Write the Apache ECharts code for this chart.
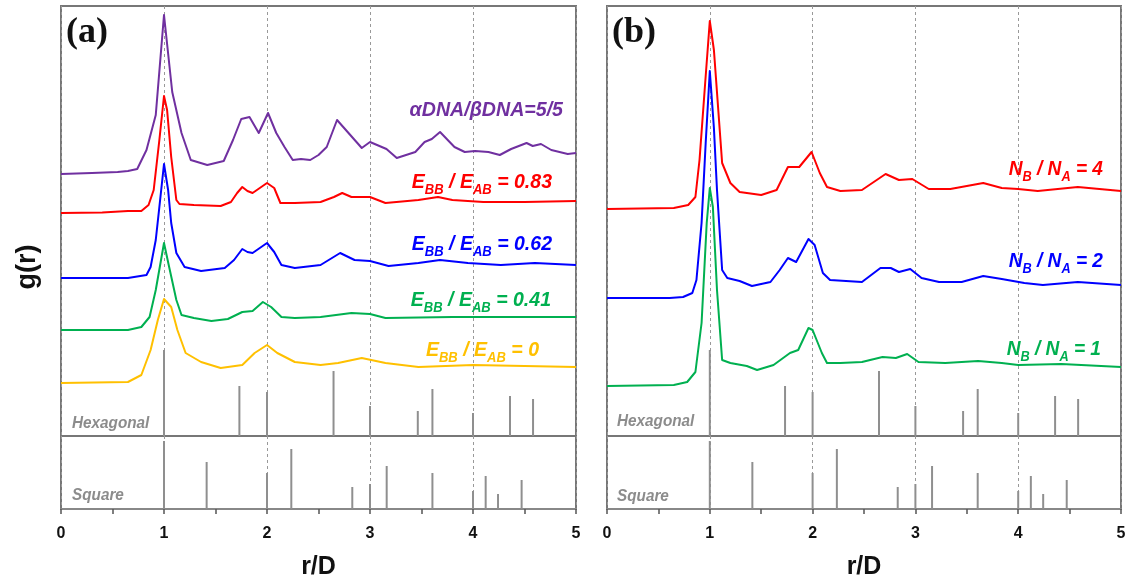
<!DOCTYPE html>
<html>
<head>
<meta charset="utf-8">
<script src="https://cdn.jsdelivr.net/npm/echarts@6/dist/echarts.min.js"></script>
<style>
html,body{margin:0;padding:0;background:#fff;}
#c{width:1128px;height:581px;}
</style>
</head>
<body>
<div id="c"></div>
<script>
// ---------------- DATA ----------------
// x tick labels
const xTicks = [0, 1, 2, 3, 4, 5];

// Panel (a): g(r) curves, [r/D, g(r) above own baseline]
const purpleA = [[0,0],[0.3,0.1],[0.55,0.2],[0.65,0.3],[0.74,0.5],[0.83,2.4],[0.92,5.9],[1.0,15.9],[1.08,8.2],[1.17,4.1],[1.26,1.4],[1.42,0.9],[1.58,1.3],[1.67,3.4],[1.75,5.5],[1.83,5.7],[1.92,4.1],[2.01,6.1],[2.09,4.1],[2.17,2.7],[2.25,1.4],[2.33,1.5],[2.42,1.4],[2.5,1.9],[2.58,2.7],[2.68,5.4],[2.92,2.6],[3.0,3.2],[3.16,2.5],[3.26,1.6],[3.44,2.2],[3.53,3.2],[3.6,3.5],[3.68,4.2],[3.82,2.7],[3.92,2.2],[4.02,2.3],[4.15,2.2],[4.26,1.9],[4.37,2.5],[4.52,3.1],[4.58,2.8],[4.66,3.0],[4.76,2.4],[4.92,2.0],[5.0,2.1]];
const redA = [[0,0],[0.4,0.05],[0.65,0.2],[0.78,0.2],[0.85,0.8],[0.9,2.3],[0.955,7.3],[1.0,11.7],[1.03,10.3],[1.07,5.6],[1.12,1.3],[1.15,0.9],[1.29,0.8],[1.55,0.7],[1.65,1.1],[1.71,2.0],[1.76,2.6],[1.81,2.2],[1.86,2.0],[1.93,2.5],[2.0,3.0],[2.07,2.5],[2.13,1.0],[2.27,1.0],[2.52,1.1],[2.65,1.6],[2.73,2.0],[2.82,1.6],[3.0,1.6],[3.15,1.0],[3.47,1.3],[3.66,1.6],[3.8,1.3],[4.1,1.1],[4.5,1.1],[5.0,1.2]];
const blueA = [[0,0],[0.65,0],[0.83,0.3],[0.87,1.1],[0.92,3.8],[0.955,7.1],[1.0,11.4],[1.04,8.8],[1.07,5.5],[1.12,2.5],[1.2,1.1],[1.36,0.7],[1.59,1.0],[1.68,1.8],[1.76,2.9],[1.81,2.6],[1.86,2.5],[1.93,3.0],[2.0,3.5],[2.07,2.6],[2.14,1.3],[2.27,1.0],[2.52,1.3],[2.71,2.5],[2.85,1.8],[3.0,1.7],[3.18,1.2],[3.47,1.5],[3.68,1.8],[3.95,1.5],[4.27,1.3],[4.6,1.5],[5.0,1.3]];
const greenA = [[0,0],[0.65,0],[0.78,0.3],[0.86,1.3],[0.92,4.0],[1.0,8.7],[1.05,6.3],[1.12,3.0],[1.17,1.5],[1.29,1.2],[1.46,0.9],[1.62,1.1],[1.76,1.8],[1.86,1.9],[1.96,2.8],[2.04,2.3],[2.14,1.3],[2.27,1.2],[2.52,1.3],[2.82,1.7],[3.0,1.6],[3.15,1.2],[3.8,1.3],[5.0,1.3]];
const yellowA = [[0,0],[0.65,0.1],[0.78,0.8],[0.87,3.3],[0.94,6.3],[1.0,8.4],[1.07,7.6],[1.13,5.3],[1.21,3.0],[1.36,2.1],[1.55,1.5],[1.76,1.8],[1.88,3.0],[2.0,3.8],[2.1,3.0],[2.27,2.1],[2.52,1.8],[2.69,2.0],[2.92,2.5],[3.15,2.0],[3.47,1.6],[4.0,1.8],[5.0,1.6]];
const offsetsA = [26.2, 22.3, 15.8, 10.6, 5.3];

// Panel (b)
const redB = [[0,0],[0.65,0.1],[0.79,0.4],[0.86,1.2],[0.9,4.9],[0.955,12.6],[1.0,18.8],[1.04,15.9],[1.12,4.6],[1.2,2.6],[1.29,1.7],[1.5,1.4],[1.59,1.7],[1.65,1.9],[1.76,4.2],[1.87,4.2],[1.99,5.7],[2.07,3.6],[2.14,2.2],[2.27,1.8],[2.48,1.9],[2.71,3.5],[2.84,2.9],[2.97,3.0],[3.13,2.0],[3.34,2.0],[3.66,2.6],[3.84,2.1],[4.0,2.0],[4.19,1.8],[4.58,2.2],[5.0,1.8]];
const blueB = [[0,0],[0.61,0],[0.74,0.1],[0.83,0.5],[0.87,1.8],[0.92,7.5],[0.96,15.5],[1.0,22.7],[1.04,17],[1.07,10.8],[1.12,2.8],[1.17,2.0],[1.29,1.7],[1.41,1.2],[1.59,1.6],[1.68,2.8],[1.76,4.0],[1.84,3.6],[1.96,5.9],[2.02,5.3],[2.1,2.5],[2.17,1.8],[2.48,1.6],[2.66,3.0],[2.76,3.0],[2.84,2.6],[2.95,2.9],[3.06,2.0],[3.23,1.6],[3.45,1.6],[3.66,2.2],[3.84,1.9],[4.06,1.5],[4.24,1.3],[4.58,1.6],[5.0,1.3]];
const greenB = [[0,0],[0.65,0.1],[0.78,0.4],[0.86,1.4],[0.92,6.3],[0.97,16.3],[1.0,19.8],[1.03,17.9],[1.07,9.6],[1.12,2.6],[1.2,2.3],[1.36,2.0],[1.46,1.6],[1.62,2.1],[1.78,3.3],[1.86,3.6],[1.96,5.8],[2.0,5.6],[2.09,3.3],[2.14,2.3],[2.27,2.3],[2.48,2.4],[2.68,2.9],[2.81,2.8],[2.92,3.2],[3.03,2.4],[3.29,2.3],[3.61,2.5],[3.84,2.3],[4.0,2.1],[4.42,2.2],[5.0,1.9]];
const offsetsB = [22.7, 13.8, 5.0];

// Reference lattice distances (sticks)
const hexR = [1, 1.732, 2, 2.646, 3, 3.464, 3.606, 4, 4.359, 4.583];
const hexH = [8.6, 5.0, 4.4, 6.5, 3.0, 2.5, 4.7, 2.3, 4.0, 3.7];
const sqR = [1, 1.414, 2, 2.236, 2.828, 3, 3.162, 3.606, 4, 4.123, 4.243, 4.472];
const sqH = [6.8, 4.7, 3.6, 6.0, 2.2, 2.5, 4.3, 3.6, 1.8, 3.3, 1.5, 2.9];

// ---------------- CHART ----------------
const COL = {purple:'#7030A0', red:'#FF0000', blue:'#0000FF', green:'#00B050', yellow:'#FFC000'};
const SANS = "'Liberation Sans',Arial,sans-serif";
const chart = echarts.init(document.getElementById('c'), null, {renderer:'canvas'});

function shift(arr, off){ return arr.map(p => [p[0], p[1] + off]); }
function pairs(rs, hs){ return rs.map((r,i) => [r, hs[i]]); }

const gridBorder = '#777';
const grids = [
  {left:61, top:6, width:515, height:430},
  {left:61, top:436, width:515, height:73},
  {left:607, top:6, width:514, height:430},
  {left:607, top:436, width:514, height:73}
].map(g => Object.assign({show:true, borderColor:gridBorder, borderWidth:2, backgroundColor:'transparent',
  containLabel:false, outerBoundsMode:'none'}, g));

const split = {show:true, lineStyle:{type:[3,3], color:'#999', width:1}};
function curveX(gi){
  return {type:'value', gridIndex:gi, min:0, max:5, interval:1,
    axisLine:{show:false}, axisTick:{show:false}, axisLabel:{show:false}, splitLine:split};
}
function bottomX(gi){
  return {type:'value', gridIndex:gi, min:0, max:5, interval:1, offset:3, position:'bottom',
    axisLine:{show:true, lineStyle:{color:'#888', width:2}},
    axisTick:{show:true, inside:false, length:5, lineStyle:{color:'#555', width:1.5}},
    minorTick:{show:true, splitNumber:2, length:5, lineStyle:{color:'#555', width:1.5}},
    axisLabel:{show:true, margin:14, fontSize:16, fontWeight:'bold', color:'#111', fontFamily:SANS,
      formatter: v => (xTicks.indexOf(v) >= 0 ? String(v) : '')},
    splitLine:split,
    name:'r/D', nameLocation:'middle', nameGap:43,
    nameTextStyle:{fontSize:25, fontWeight:'bold', color:'#111', fontFamily:SANS}};
}
const xAxis = [curveX(0), bottomX(1), curveX(2), bottomX(3)];
const yAxis = [
  {type:'value', gridIndex:0, min:0, max:43, show:false},
  {type:'value', gridIndex:1, min:0, max:7.3, show:false},
  {type:'value', gridIndex:2, min:0, max:43, show:false},
  {type:'value', gridIndex:3, min:0, max:7.3, show:false}
];

function line(data, color, gi){
  return {type:'line', xAxisIndex:gi, yAxisIndex:gi, data:data, symbol:'none', showSymbol:false,
    smooth:false, lineStyle:{color:color, width:2, join:'round'}, z:5, silent:true};
}
function sticks(data, gi){
  return {type:'bar', xAxisIndex:gi, yAxisIndex:gi, data:data, barWidth:2,
    itemStyle:{color:'#8f8f8f'}, z:3, silent:true};
}

const series = [
  sticks(pairs(hexR, hexH), 0),
  sticks(pairs(sqR, sqH), 1),
  sticks(pairs(hexR, hexH), 2),
  sticks(pairs(sqR, sqH), 3),
  line(shift(purpleA, offsetsA[0]), COL.purple, 0),
  line(shift(redA, offsetsA[1]), COL.red, 0),
  line(shift(blueA, offsetsA[2]), COL.blue, 0),
  line(shift(greenA, offsetsA[3]), COL.green, 0),
  line(shift(yellowA, offsetsA[4]), COL.yellow, 0),
  line(shift(redB, offsetsB[0]), COL.red, 2),
  line(shift(blueB, offsetsB[1]), COL.blue, 2),
  line(shift(greenB, offsetsB[2]), COL.green, 2)
];

function richLabel(parts, color, right, cy, size, sx){
  const txt = parts.map(p => (p[1] ? '{s|' : '{m|') + p[0] + '}').join('');
  return {type:'text', x:right, y:cy, scaleX:sx, z:20, silent:true,
    style:{text:txt, fill:color, align:'right', verticalAlign:'middle',
      rich:{
        m:{fontSize:size, fontWeight:'bold', fontStyle:'italic', fontFamily:SANS, fill:color, lineHeight:30, verticalAlign:'middle'},
        s:{fontSize:Math.round(size*0.68), fontWeight:'bold', fontStyle:'italic', fontFamily:SANS, fill:color, lineHeight:30, verticalAlign:'bottom'}
      }}};
}
function eLabel(val, color, right, cy){
  return richLabel([['E',0],['BB',1],[' / E',0],['AB',1],[' = ' + val,0]], color, right, cy, 21, 0.93);
}
function nLabel(val, color, right, cy){
  return richLabel([['N',0],['B',1],[' / N',0],['A',1],[' = ' + val,0]], color, right, cy, 21, 0.91);
}
function plain(text, left, cy, size, color){
  return {type:'text', x:left, y:cy, scaleX:0.9, z:20, silent:true,
    style:{text:text, fill:color, font:'italic bold ' + size + 'px ' + SANS, align:'left', verticalAlign:'middle'}};
}

const graphic = [
  {type:'text', left:66, top:15, z:20, silent:true, style:{text:'(a)', fill:'#111', font:"bold 36px 'Liberation Serif','DejaVu Serif',serif"}},
  {type:'text', left:612, top:15, z:20, silent:true, style:{text:'(b)', fill:'#111', font:"bold 36px 'Liberation Serif','DejaVu Serif',serif"}},
  {type:'text', x:28, y:267, rotation:Math.PI/2, z:20, silent:true,
    style:{text:'g(r)', fill:'#111', font:"bold 27px " + SANS, align:'center', verticalAlign:'middle'}},
  {type:'text', x:563, y:110, scaleX:0.98, z:20, silent:true,
    style:{text:'αDNA/βDNA=5/5', fill:COL.purple, font:"italic bold 20px " + SANS, align:'right', verticalAlign:'middle'}},
  eLabel('0.83', COL.red, 552, 182),
  eLabel('0.62', COL.blue, 552, 244),
  eLabel('0.41', COL.green, 551, 300),
  eLabel('0', COL.yellow, 539, 350),
  nLabel('4', COL.red, 1103, 169),
  nLabel('2', COL.blue, 1103, 261),
  nLabel('1', COL.green, 1101, 349),
  plain('Hexagonal', 72, 423, 17, '#8c8c8c'),
  plain('Square', 72, 495, 17, '#8c8c8c'),
  plain('Hexagonal', 617, 421, 17, '#8c8c8c'),
  plain('Square', 617, 496, 17, '#8c8c8c')
];

chart.setOption({
  animation:false,
  backgroundColor:'#fff',
  grid:grids, xAxis:xAxis, yAxis:yAxis, series:series, graphic:graphic
});
</script>
</body>
</html>
